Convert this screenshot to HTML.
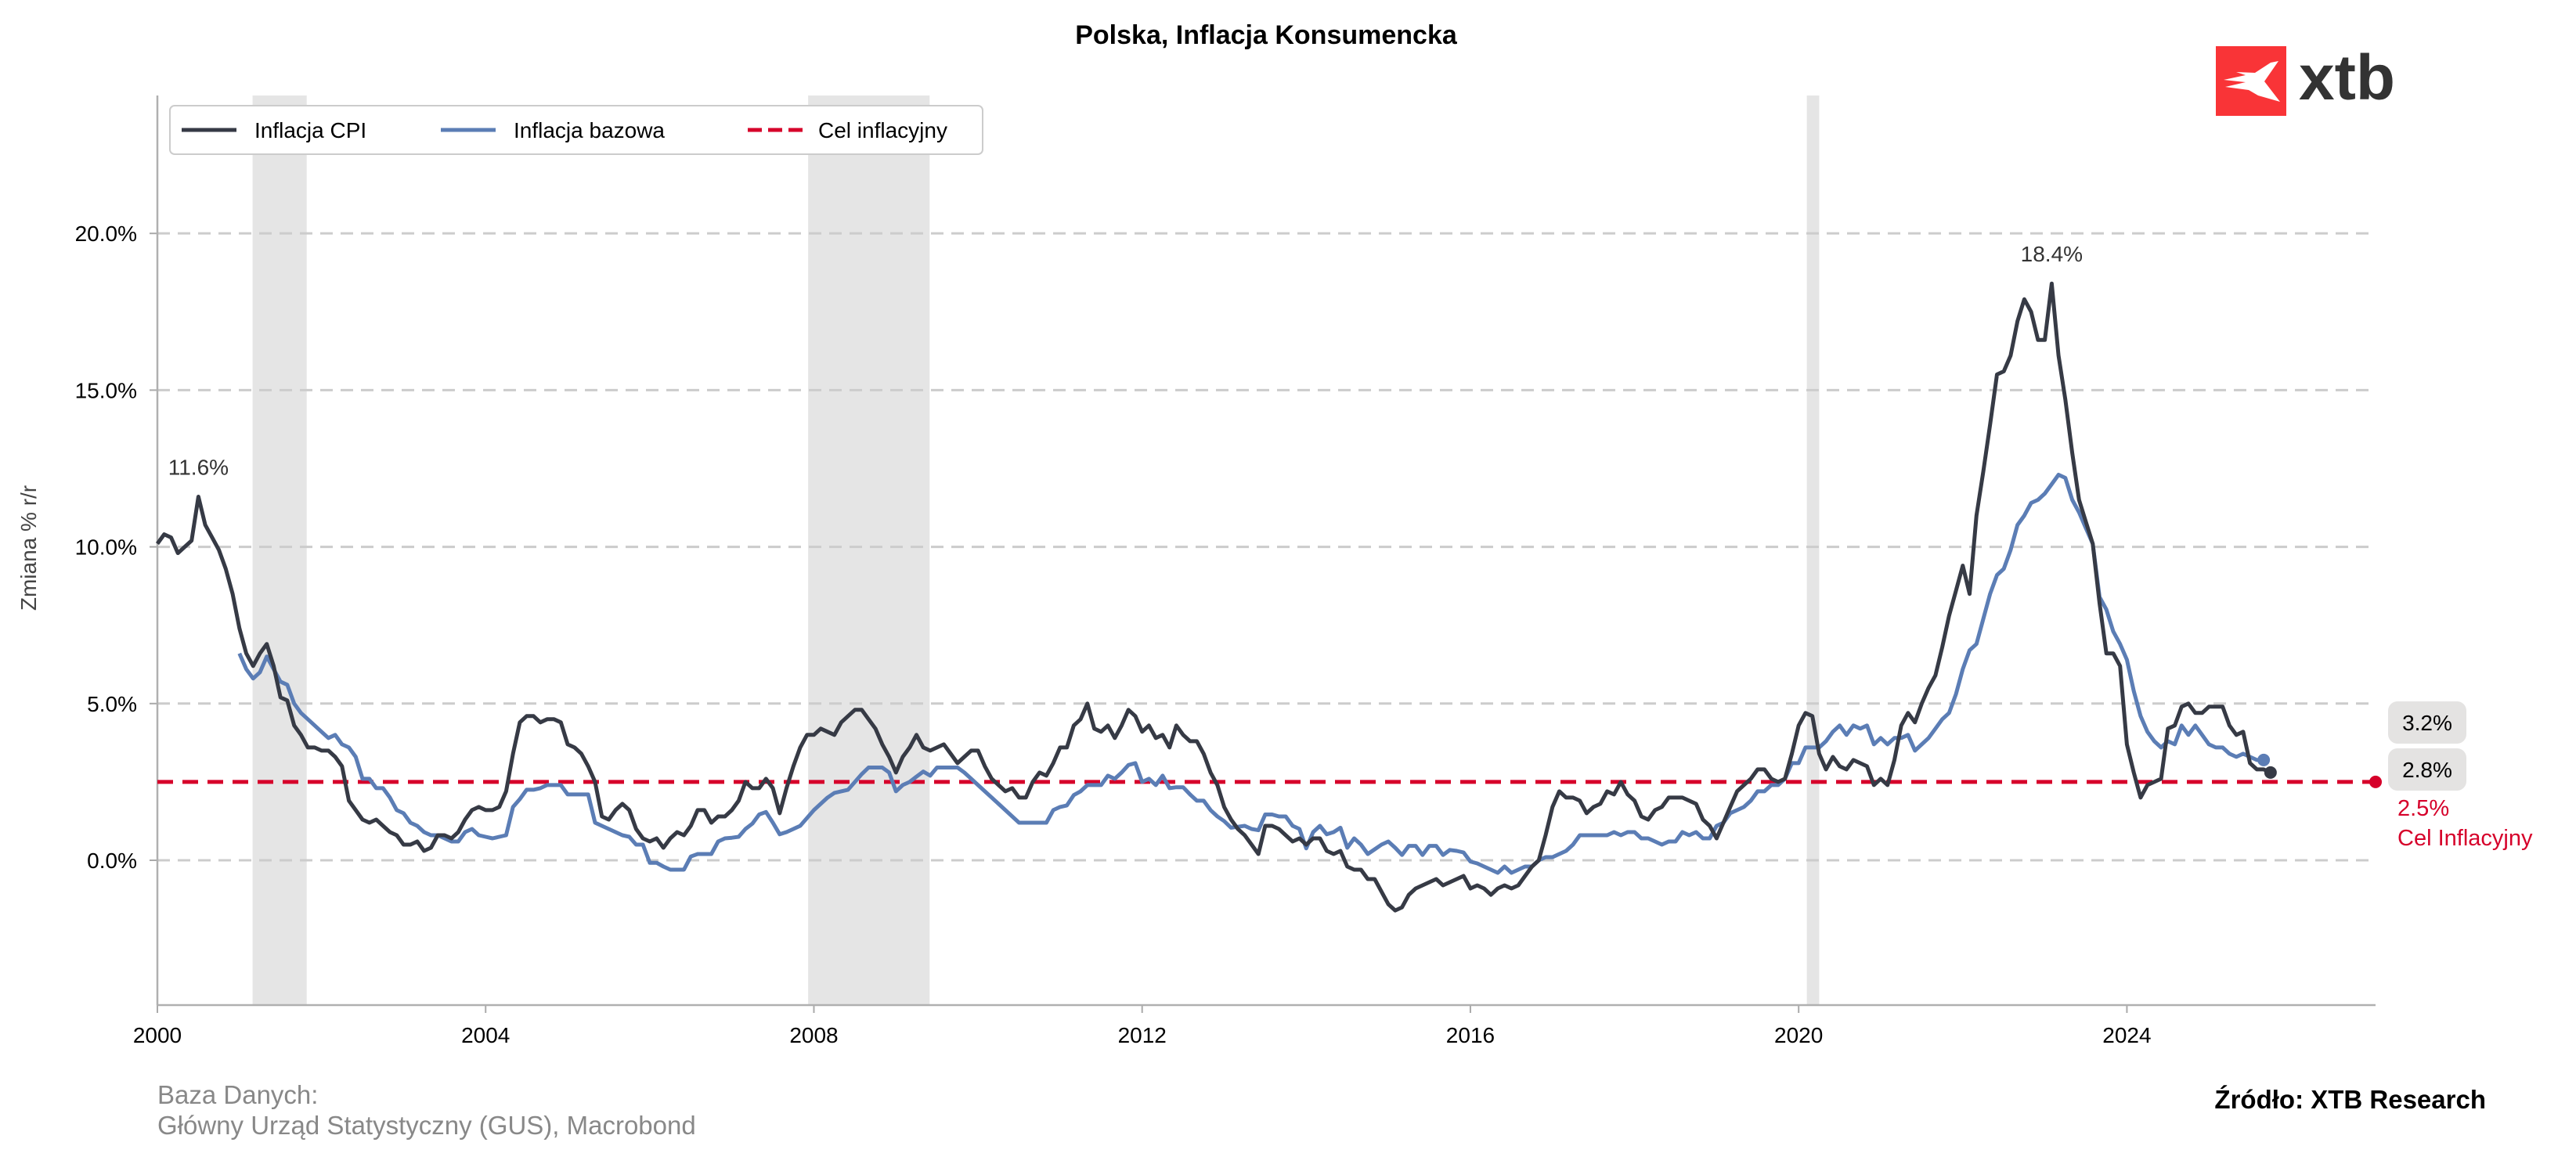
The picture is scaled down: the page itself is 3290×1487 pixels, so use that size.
<!DOCTYPE html>
<html><head><meta charset="utf-8">
<style>
html,body{margin:0;padding:0;background:#fff;}
svg{display:block;font-family:"Liberation Sans",Arial,sans-serif;}
</style></head>
<body>
<svg id="chart" width="3290" height="1487" viewBox="0 0 3290 1487" xmlns="http://www.w3.org/2000/svg">
<rect width="3290" height="1487" fill="#fff"/>
<text x="1617" y="56" font-size="34" font-weight="bold" text-anchor="middle" fill="#000">Polska, Inflacja Konsumencka</text>
<g>
<rect x="2830" y="59" width="90" height="89" fill="#f93437"/>
<polygon points="2840,102 2868,96 2856,92 2880,93 2900,80 2910,78 2892,104 2912,130 2884,122 2872,115 2842,111 2868,105" fill="#fff"/>
<text x="2936" y="127" font-size="82" font-weight="bold" fill="#333">xtb</text>
</g>
<g id="shades"></g>
<g id="grid"></g>
<g id="axes"></g>
<g id="lines"></g>
<g>
<rect x="217" y="135" width="1038" height="62" rx="6" fill="#fff" stroke="#ccc" stroke-width="2"/>
<line x1="232" y1="166" x2="302" y2="166" stroke="#363a45" stroke-width="5"/>
<text x="325" y="176" font-size="28" fill="#000">Inflacja CPI</text>
<line x1="563" y1="166" x2="633" y2="166" stroke="#5b7db5" stroke-width="5"/>
<text x="656" y="176" font-size="28" fill="#000">Inflacja bazowa</text>
<line x1="955" y1="166" x2="1025" y2="166" stroke="#d6002a" stroke-width="5" stroke-dasharray="18,8"/>
<text x="1045" y="176" font-size="28" fill="#000">Cel inflacyjny</text>
</g>
<text transform="translate(46,700) rotate(-90)" font-size="28" fill="#444" text-anchor="middle">Zmiana % r/r</text>
<g>
<rect x="3050" y="896" width="100" height="54" rx="12" fill="#e4e3e2"/>
<text x="3100" y="933" font-size="28" text-anchor="middle" fill="#000">3.2%</text>
<rect x="3050" y="956" width="100" height="54" rx="12" fill="#e4e3e2"/>
<text x="3100" y="993" font-size="28" text-anchor="middle" fill="#000">2.8%</text>
<text x="3062" y="1042" font-size="29" fill="#d6002a">2.5%</text>
<text x="3062" y="1080" font-size="29" fill="#d6002a">Cel Inflacyjny</text>
</g>
<text x="201" y="1410" font-size="33" fill="#888">Baza Danych:</text>
<text x="201" y="1449" font-size="33" fill="#888">Główny Urząd Statystyczny (GUS), Macrobond</text>
<text x="3175" y="1416" font-size="33" font-weight="bold" text-anchor="end" fill="#000">Źródło: XTB Research</text>
</svg>
<script>
const cpi = [
10.1,10.4,10.3,9.8,10.0,10.2,11.6,10.7,10.3,9.9,9.3,8.5,
7.4,6.6,6.2,6.6,6.9,6.2,5.2,5.1,4.3,4.0,3.6,3.6,
3.5,3.5,3.3,3.0,1.9,1.6,1.3,1.2,1.3,1.1,0.9,0.8,
0.5,0.5,0.6,0.3,0.4,0.8,0.8,0.7,0.9,1.3,1.6,1.7,
1.6,1.6,1.7,2.2,3.4,4.4,4.6,4.6,4.4,4.5,4.5,4.4,
3.7,3.6,3.4,3.0,2.5,1.4,1.3,1.6,1.8,1.6,1.0,0.7,
0.6,0.7,0.4,0.7,0.9,0.8,1.1,1.6,1.6,1.2,1.4,1.4,
1.6,1.9,2.5,2.3,2.3,2.6,2.3,1.5,2.3,3.0,3.6,4.0,
4.0,4.2,4.1,4.0,4.4,4.6,4.8,4.8,4.5,4.2,3.7,3.3,
2.8,3.3,3.6,4.0,3.6,3.5,3.6,3.7,3.4,3.1,3.3,3.5,
3.5,3.0,2.6,2.4,2.2,2.3,2.0,2.0,2.5,2.8,2.7,3.1,
3.6,3.6,4.3,4.5,5.0,4.2,4.1,4.3,3.9,4.3,4.8,4.6,
4.1,4.3,3.9,4.0,3.6,4.3,4.0,3.8,3.8,3.4,2.8,2.4,
1.7,1.3,1.0,0.8,0.5,0.2,1.1,1.1,1.0,0.8,0.6,0.7,
0.5,0.7,0.7,0.3,0.2,0.3,-0.2,-0.3,-0.3,-0.6,-0.6,-1.0,
-1.4,-1.6,-1.5,-1.1,-0.9,-0.8,-0.7,-0.6,-0.8,-0.7,-0.6,-0.5,
-0.9,-0.8,-0.9,-1.1,-0.9,-0.8,-0.9,-0.8,-0.5,-0.2,0.0,0.8,
1.7,2.2,2.0,2.0,1.9,1.5,1.7,1.8,2.2,2.1,2.5,2.1,
1.9,1.4,1.3,1.6,1.7,2.0,2.0,2.0,1.9,1.8,1.3,1.1,
0.7,1.2,1.7,2.2,2.4,2.6,2.9,2.9,2.6,2.5,2.6,3.4,
4.3,4.7,4.6,3.4,2.9,3.3,3.0,2.9,3.2,3.1,3.0,2.4,
2.6,2.4,3.2,4.3,4.7,4.4,5.0,5.5,5.9,6.8,7.8,8.6,
9.4,8.5,11.0,12.4,13.9,15.5,15.6,16.1,17.2,17.9,17.5,16.6,
16.6,18.4,16.1,14.7,13.0,11.5,10.8,10.1,8.2,6.6,6.6,6.2,
3.7,2.8,2.0,2.4,2.5,2.6,4.2,4.3,4.9,5.0,4.7,4.7,
4.9,4.9,4.9,4.3,4.0,4.1,3.1,2.9,2.9,2.8];
const cpiStart = 2000;
const core = [
6.6,6.1,5.8,6.0,6.5,6.1,5.7,5.6,5.0,4.7,4.5,4.3,
4.1,3.9,4.0,3.7,3.6,3.3,2.6,2.6,2.3,2.3,2.0,1.6,
1.5,1.2,1.1,0.9,0.8,0.8,0.7,0.6,0.6,0.9,1.0,0.8,
0.75,0.7,0.75,0.8,1.7,1.95,2.25,2.25,2.3,2.4,2.4,2.4,
2.1,2.1,2.1,2.1,1.2,1.1,1.0,0.9,0.8,0.75,0.5,0.5,
-0.08,-0.08,-0.2,-0.3,-0.3,-0.3,0.12,0.2,0.2,0.2,0.6,0.7,
0.72,0.75,1.0,1.17,1.46,1.54,1.2,0.83,0.9,1.0,1.1,1.35,
1.6,1.8,2.0,2.15,2.2,2.25,2.5,2.75,2.96,2.96,2.96,2.8,
2.2,2.4,2.5,2.67,2.83,2.7,2.96,2.96,2.96,2.96,2.8,2.6,
2.4,2.2,2.0,1.8,1.6,1.4,1.2,1.2,1.2,1.2,1.2,1.6,
1.7,1.75,2.08,2.2,2.4,2.4,2.4,2.7,2.6,2.8,3.04,3.1,
2.5,2.6,2.4,2.7,2.3,2.33,2.33,2.1,1.9,1.9,1.6,1.4,
1.25,1.04,1.07,1.1,1.0,0.96,1.46,1.46,1.4,1.4,1.1,1.0,
0.38,0.9,1.1,0.83,0.9,1.04,0.4,0.7,0.5,0.2,0.35,0.5,
0.6,0.4,0.17,0.46,0.46,0.17,0.46,0.46,0.17,0.33,0.3,0.25,
-0.04,-0.1,-0.2,-0.3,-0.4,-0.2,-0.4,-0.3,-0.2,-0.2,0.0,0.1,
0.1,0.2,0.3,0.5,0.8,0.8,0.8,0.8,0.8,0.9,0.8,0.9,
0.9,0.7,0.7,0.6,0.5,0.6,0.6,0.9,0.8,0.9,0.7,0.7,
1.1,1.2,1.5,1.6,1.7,1.9,2.2,2.2,2.4,2.4,2.6,3.1,
3.1,3.6,3.6,3.6,3.8,4.1,4.3,4.0,4.3,4.2,4.3,3.7,
3.9,3.7,3.9,3.9,4.0,3.5,3.7,3.9,4.2,4.5,4.7,5.3,
6.1,6.7,6.9,7.7,8.5,9.1,9.3,9.9,10.7,11.0,11.4,11.5,
11.7,12.0,12.3,12.2,11.5,11.1,10.6,10.1,8.4,8.0,7.3,6.9,
6.4,5.4,4.6,4.1,3.8,3.6,3.8,3.7,4.3,4.0,4.3,4.0,
3.7,3.6,3.6,3.4,3.3,3.4,3.3,3.2,3.2];
const coreStart = 2001;
const target = 2.5;
const yTicks = [0,5,10,15,20];
const xTicks = [2000,2004,2008,2012,2016,2020,2024];
const recessions = [[2001.16,2001.82],[2007.93,2009.41],[2020.1,2020.25]];

const L=201,R=3034,T=122,B=1284;
const X0=2000,X1=2027.03,Y0=-4.62,Y1=24.4;
const sx=v=>L+(v-X0)/(X1-X0)*(R-L);
const sy=v=>B-(v-Y0)/(Y1-Y0)*(B-T);
const NS='http://www.w3.org/2000/svg';
function mk(tag,attrs,parent){const e=document.createElementNS(NS,tag);for(const k in attrs)e.setAttribute(k,attrs[k]);document.getElementById(parent).appendChild(e);return e;}

recessions.forEach(r=>{
  const e=mk('rect',{x:sx(r[0]),y:T,width:sx(r[1])-sx(r[0]),height:B-T,fill:'#e5e5e5'},'shades');
  
  
});
yTicks.forEach(v=>{
  const g=mk('line',{x1:L,x2:R,y1:sy(v),y2:sy(v),stroke:'#cccccc','stroke-width':3,'stroke-dasharray':'16,10'},'grid');
  
  
  const t=mk('text',{x:L-26,y:sy(v)+10,'font-size':28,'text-anchor':'end',fill:'#000'},'axes');
  t.textContent=v.toFixed(1)+'%';
  
  
  mk('line',{x1:L-10,x2:L,y1:sy(v),y2:sy(v),stroke:'#aaa','stroke-width':2},'axes');
});
xTicks.forEach(v=>{
  const t=mk('text',{x:sx(v),y:B+48,'font-size':28,'text-anchor':'middle',fill:'#000'},'axes');
  t.textContent=v;
  
  
  mk('line',{x1:sx(v),x2:sx(v),y1:B,y2:B+10,stroke:'#aaa','stroke-width':2},'axes');
});
const ya=mk('line',{x1:L,x2:L,y1:T,y2:B,stroke:'#b0b0b0','stroke-width':2.5},'axes');


const xa=mk('line',{x1:L,x2:R,y1:B,y2:B,stroke:'#b0b0b0','stroke-width':2.5},'axes');



function series(arr,start,color,name){
  const pts=arr.map((v,i)=>sx(start+i/12).toFixed(1)+','+sy(v).toFixed(1)).join(' ');
  const p=mk('polyline',{points:pts,fill:'none',stroke:color,'stroke-width':5,'stroke-linejoin':'round'},'lines');
  
  
  const n=arr.length-1;
  const c=mk('circle',{cx:sx(start+n/12),cy:sy(arr[n]),r:8,fill:color},'lines');
  
  
}
const tl=mk('line',{x1:L,x2:R,y1:sy(target),y2:sy(target),stroke:'#d6002a','stroke-width':5,'stroke-dasharray':'20,12'},'lines');


series(core,coreStart,'#5b7db5','core-inflation-line');
series(cpi,cpiStart,'#363a45','cpi-line');
const td=mk('circle',{cx:R,cy:sy(target),r:8,fill:'#d6002a'},'lines');



function peak(from,to){let bi=from;for(let i=from;i<to;i++)if(cpi[i]>cpi[bi])bi=i;return bi;}
[peak(0,24),peak(240,cpi.length)].forEach(i=>{
  const t=mk('text',{x:sx(cpiStart+i/12),y:sy(cpi[i])-28,'font-size':28,'text-anchor':'middle',fill:'#333'},'lines');
  t.textContent=cpi[i].toFixed(1)+'%';
  
  
});
</script>
</body></html>
